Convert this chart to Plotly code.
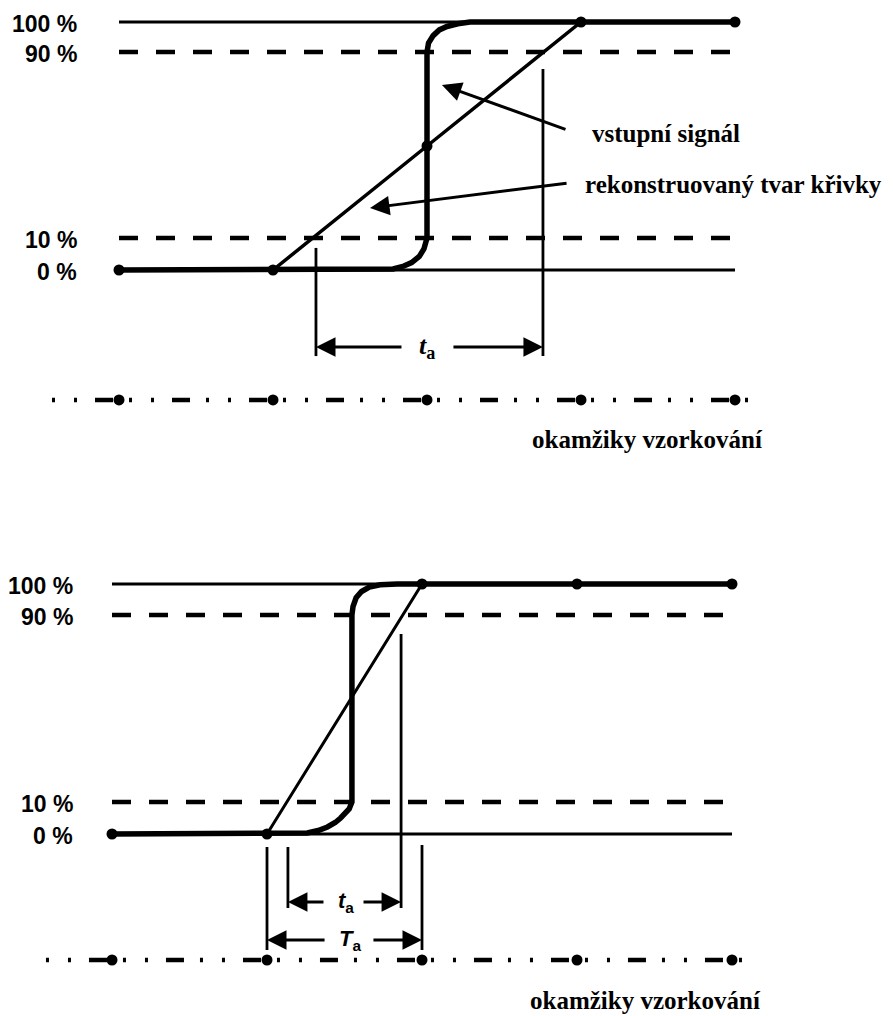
import plotly.graph_objects as go
from plotly.subplots import make_subplots

# ---------------- data (time in sampling periods, level in % of step) ----------------
level_labels = ["0 %", "10 %", "90 %", "100 %"]
top_levels = [0, 12.9, 87.9, 100]          # drawn positions of the 0/10/90/100 % lines
bot_levels = [0, 12.8, 87.6, 100]
line_start_t = [0, 0]
line_end_t = [4, 4]

sample_t = [0, 1, 2, 3, 4]                 # sampling instants
top_sample_v = [0, 0, 50, 100, 100]        # reconstructed curve through samples
bot_sample_v = [0, 0, 100, 100, 100]

# input signal (steep step with rounded corners)
top_input_t = [0, 1.69, 1.78, 1.85, 1.90, 1.95, 1.98, 2.0, 2.0, 2.01, 2.04, 2.08, 2.13, 2.20, 2.28, 4]
top_input_v = [0, 0, 0.4, 1.6, 3.0, 5.5, 8.5, 12.9, 87.9, 91.5, 94.5, 96.8, 98.2, 99.3, 100, 100]
bot_input_t = [0, 1.148, 1.26, 1.33, 1.39, 1.44, 1.475, 1.53, 1.548, 1.548, 1.555, 1.575, 1.61, 1.66, 1.73, 1.84, 4]
bot_input_v = [0, 0, 0.4, 1.4, 2.8, 4.6, 6.4, 10.0, 12.8, 87.6, 91.0, 94.5, 97.0, 98.8, 99.7, 100, 100]

# time-interval markers
top_ta_t = [1.279, 2.753]
top_ta_from = [8.9, 81.0]
top_ta_to = [-34.7, -34.7]
top_ta_arrow_v = -31.0
top_ta_tail_t = [1.844, 2.162]
top_ta_label_t = 2.0

bot_ta_t = [1.135, 1.865]
bot_ta_from = [-5.2, 80.0]
bot_ta_to = [-29.6, -29.6]
bot_ta_arrow_v = -27.2
bot_ta_tail_t = [1.374, 1.613]
bot_ta_label_t = 1.51

bot_Ta_t = [1.0, 2.0]
bot_Ta_from = [-5.2, -4.4]
bot_Ta_to = [-46.4, -46.4]
bot_Ta_arrow_v = -42.4
bot_Ta_tail_t = [1.381, 1.677]
bot_Ta_label_t = 1.535

# sampling-instant axis
top_samp_span = [-0.435, 4.11]
top_samp_v = -52.4
bot_samp_span = [-0.426, 4.168]
bot_samp_v = -50.4
samp_text = "okamžiky vzorkování"
top_samp_text_pos = [3.435, -68.5]
bot_samp_text_pos = [3.445, -66.4]

# callouts (top panel)
callout_texts = ["vstupní signál", "rekonstruovaný tvar křivky"]
callout_text_pos = [[3.058, 55.2], [3.013, 34.3]]
callout_tail = [[2.909, 56.5], [2.916, 35.1]]
callout_head = [[2.097, 74.6], [1.630, 25.0]]

# ---------------- figure ----------------
fig = make_subplots(rows=2, cols=1, vertical_spacing=0)
W, H = 893, 1016
BLACK = "#000000"
SERIF = "Liberation Serif, Times New Roman, serif"
SANS = "Liberation Sans, Arial, sans-serif"

annotations = []

def panel(row, levels, samp_v_vals, in_t, in_v, samp_span, samp_y, samp_text_pos, lab_t, xr, yr):
    xa = "x" if row == 1 else "x2"
    ya = "y" if row == 1 else "y2"
    # reference levels
    for lv, dash, w in zip(levels, ["solid", "19px,18px", "19px,18px", "solid"], [3, 4.5, 4.5, 3]):
        fig.add_trace(go.Scatter(x=[line_start_t[0], line_end_t[0]], y=[lv, lv], mode="lines",
                                 line=dict(color=BLACK, width=w, dash=dash), hoverinfo="skip"),
                      row=row, col=1)
    # input signal
    fig.add_trace(go.Scatter(x=in_t, y=in_v, mode="lines", line=dict(color=BLACK, width=5.5),
                             hoverinfo="skip"), row=row, col=1)
    # reconstructed (linear through samples)
    fig.add_trace(go.Scatter(x=sample_t, y=samp_v_vals, mode="lines+markers",
                             line=dict(color=BLACK, width=3.5 if row == 1 else 3),
                             marker=dict(color=BLACK, size=11), hoverinfo="skip"), row=row, col=1)
    # sampling axis
    fig.add_trace(go.Scatter(x=samp_span, y=[samp_y, samp_y], mode="lines",
                             line=dict(color=BLACK, width=4.5, dash="3px,19px,3px,18px,18px,16px"),
                             hoverinfo="skip"), row=row, col=1)
    fig.add_trace(go.Scatter(x=sample_t, y=[samp_y] * len(sample_t), mode="markers",
                             marker=dict(color=BLACK, size=11), hoverinfo="skip"), row=row, col=1)
    annotations.append(dict(x=samp_text_pos[0], y=samp_text_pos[1], xref=xa, yref=ya,
                            text="<b>" + samp_text + "</b>", showarrow=False,
                            font=dict(family=SERIF, size=25, color=BLACK)))
    for lv, lab in zip(levels, level_labels):
        annotations.append(dict(x=lab_t, y=lv, xref=xa, yref=ya, text="<b>" + lab + "</b>",
                                showarrow=False, xanchor="right", yshift=-2,
                                font=dict(family=SANS, size=23, color=BLACK)))
    fig.update_xaxes(range=xr, visible=False, row=row, col=1)
    fig.update_yaxes(range=yr, visible=False, row=row, col=1)


def vlines(row, ts, froms, tos):
    for t, a, b in zip(ts, froms, tos):
        fig.add_trace(go.Scatter(x=[t, t], y=[a, b], mode="lines",
                                 line=dict(color=BLACK, width=2.8), hoverinfo="skip"),
                      row=row, col=1)


def dim_arrow(row, tips, tails, yv, label_t, label, font):
    xa = "x" if row == 1 else "x2"
    ya = "y" if row == 1 else "y2"
    for tip, tail in zip(tips, tails):
        annotations.append(dict(x=tip, y=yv, ax=tail, ay=yv, xref=xa, yref=ya, axref=xa, ayref=ya,
                                text="", showarrow=True, arrowhead=2, arrowsize=1.3,
                                arrowwidth=3, arrowcolor=BLACK, standoff=0, startstandoff=0))
    annotations.append(dict(x=label_t, y=yv, xref=xa, yref=ya, text=label, showarrow=False,
                            font=font))


# the page places the figure 8 px in from the top-left corner; ranges compensate for that
panel(1, top_levels, top_sample_v, top_input_t, top_input_v, top_samp_span, top_samp_v,
      top_samp_text_pos, -0.26, [-111 / 154, 782 / 154], [-246 / 2.48, 262 / 2.48])
panel(2, bot_levels, bot_sample_v, bot_input_t, bot_input_v, bot_samp_span, bot_samp_v,
      bot_samp_text_pos, -0.239, [-104 / 155, 789 / 155], [-190 / 2.5, 318 / 2.5])

vlines(1, top_ta_t, top_ta_from, top_ta_to)
vlines(2, bot_ta_t, bot_ta_from, bot_ta_to)
vlines(2, bot_Ta_t, bot_Ta_from, bot_Ta_to)

dim_arrow(1, top_ta_t, top_ta_tail_t, top_ta_arrow_v, top_ta_label_t,
          "<b><i>t</i><sub>a</sub></b>", dict(family=SERIF, size=26, color=BLACK))
dim_arrow(2, bot_ta_t, bot_ta_tail_t, bot_ta_arrow_v, bot_ta_label_t,
          "<b><i>t</i><sub>a</sub></b>", dict(family=SANS, size=22, color=BLACK))
dim_arrow(2, bot_Ta_t, bot_Ta_tail_t, bot_Ta_arrow_v, bot_Ta_label_t,
          "<b><i>T</i><sub>a</sub></b>", dict(family=SANS, size=22, color=BLACK))

for txt, pos, tail, head in zip(callout_texts, callout_text_pos, callout_tail, callout_head):
    annotations.append(dict(x=head[0], y=head[1], ax=tail[0], ay=tail[1], xref="x", yref="y",
                            axref="x", ayref="y", text="", showarrow=True, arrowhead=2,
                            arrowsize=1.3, arrowwidth=3, arrowcolor=BLACK, standoff=0))
    annotations.append(dict(x=pos[0], y=pos[1], xref="x", yref="y", text="<b>" + txt + "</b>",
                            showarrow=False, xanchor="left",
                            font=dict(family=SERIF, size=25, color=BLACK)))

fig.update_layout(width=W, height=H, margin=dict(l=0, r=0, t=0, b=0),
                  paper_bgcolor="white", plot_bgcolor="white", showlegend=False,
                  annotations=annotations)
fig.update_layout(yaxis=dict(domain=[0.5, 1.0]), yaxis2=dict(domain=[0.0, 0.5]),
                  xaxis=dict(domain=[0, 1]), xaxis2=dict(domain=[0, 1]))

fig.write_html("out.html")
